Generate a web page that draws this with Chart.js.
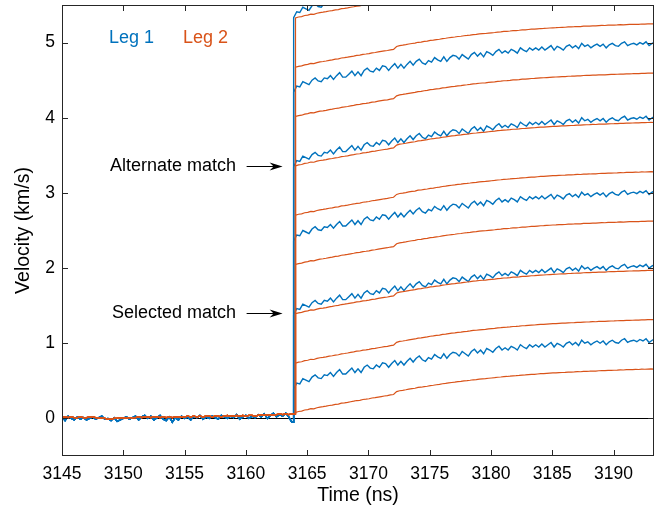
<!DOCTYPE html>
<html><head><meta charset="utf-8">
<script src="https://cdn.jsdelivr.net/npm/chart.js@4"></script>
<style>html,body{margin:0;padding:0;background:#fff}#wrap{width:666px;height:512px;position:relative}</style>
</head><body><div id="wrap"><canvas id="c"></canvas></div>
<script>
// ---- data ----
const xTicks = [3145, 3150, 3155, 3160, 3165, 3170, 3175, 3180, 3185, 3190];
const yTicks = [0, 1, 2, 3, 4, 5];
const xRange = [3145, 3193.3];
const yRange = [-0.5, 5.5];
const preStart = 3145, sampleStep = 0.25;
const blueJump = 3163.9, orangeJump = 3164.05;

// pre-shock baseline (3145 .. 3163.75 ns)
const bluePre = [
 0.02,-0.03,0.03,0.00,-0.02,0.02,-0.01,0.01,
 -0.02,0.00,0.02,-0.01,0.01,0.03,-0.01,0.00,
 -0.03,0.01,-0.04,-0.02,0.00,0.02,-0.01,0.01,
 0.03,-0.02,0.02,0.04,0.00,0.03,-0.02,0.01,
 0.04,-0.01,-0.03,0.02,-0.05,0.01,-0.02,0.03,
 0.00,0.02,-0.02,0.03,0.01,0.04,-0.01,0.02,
 0.00,0.03,0.01,-0.01,0.04,0.02,0.00,0.03,
 0.01,0.05,-0.01,0.02,0.04,0.00,0.03,0.01,
 0.05,0.02,0.06,0.00,0.04,0.07,0.02,0.05,
 0.03,0.07,0.02,-0.05];
const orangePre = [
 0.02,0.02,0.01,0.02,0.01,0.01,0.02,0.01,
 0.01,0.02,0.02,0.01,0.01,0.00,0.00,-0.01,
 -0.01,0.00,0.00,0.01,0.00,0.01,0.01,0.01,
 0.01,0.02,0.01,0.02,0.02,0.01,0.02,0.02,
 0.01,0.02,0.01,0.02,0.01,0.02,0.02,0.02,
 0.02,0.03,0.02,0.03,0.02,0.03,0.02,0.03,
 0.03,0.02,0.03,0.03,0.02,0.03,0.04,0.03,
 0.03,0.04,0.03,0.04,0.03,0.04,0.04,0.03,
 0.04,0.05,0.04,0.05,0.04,0.05,0.05,0.06,
 0.05,0.06,0.05,0.06];

// post-shock velocity (base trace, from jump time, 0.25 ns samples)
const bluePost = [
 0.39,0.47,0.46,0.53,0.51,0.49,0.55,0.58,0.54,0.53,0.58,0.57,0.61,0.56,0.61,0.65,
 0.59,0.59,0.63,0.67,0.61,0.66,0.61,0.68,0.71,0.67,0.66,0.71,0.68,0.74,0.73,0.68,
 0.73,0.77,0.71,0.76,0.71,0.76,0.80,0.75,0.80,0.83,0.78,0.76,0.81,0.79,0.85,0.82,
 0.80,0.86,0.80,0.85,0.88,0.87,0.83,0.89,0.86,0.83,0.89,0.92,0.87,0.91,0.86,0.93,
 0.91,0.88,0.93,0.96,0.91,0.94,0.91,0.96,0.94,0.91,0.98,0.95,0.93,0.98,0.95,0.98,
 0.95,0.99,0.95,0.98,1.01,0.95,1.00,0.98,0.95,1.00,1.02,0.98,1.01,0.97,1.04,1.00,
 1.02,0.98,1.01,1.03,1.00,1.03,0.98,1.02,1.04,1.01,1.00,1.04,1.06,1.01,1.03,1.04,
 1.02,1.05,1.03,1.06,1.01,1.04,1.06];
const orangePost = [
 0.080,0.092,0.098,0.112,0.118,0.131,0.128,0.142,0.151,0.156,0.163,0.172,0.178,0.187,0.191,0.203,
 0.208,0.214,0.222,0.229,0.238,0.241,0.252,0.256,0.262,0.272,0.276,0.284,0.291,0.298,0.303,0.312,
 0.318,0.356,0.368,0.374,0.381,0.389,0.396,0.401,0.412,0.415,0.423,0.428,0.437,0.441,0.448,0.452,
 0.461,0.466,0.472,0.478,0.482,0.489,0.492,0.499,0.503,0.508,0.514,0.517,0.523,0.526,0.529,0.534,
 0.538,0.542,0.548,0.551,0.556,0.558,0.562,0.567,0.568,0.572,0.577,0.578,0.582,0.586,0.587,0.591,
 0.595,0.596,0.599,0.602,0.605,0.606,0.609,0.611,0.612,0.616,0.617,0.619,0.622,0.621,0.626,0.627,
 0.628,0.631,0.630,0.634,0.636,0.635,0.639,0.640,0.641,0.643,0.646,0.644,0.648,0.649,0.650,0.652,
 0.651,0.655,0.654,0.657,0.658,0.657,0.660];

// vertical offsets of the stacked traces (km/s)
const blueOffsets = [0, 0.99, 1.97, 2.96, 3.95, 4.94];
const orangeOffsets = [0, 0.656, 1.312, 1.968, 2.624, 3.28, 3.936, 4.592, 5.248];

const legendLabels = ['Leg 1', 'Leg 2'];
const notes = [
  {text: 'Alternate match', x: 3163.0, y: 3.36},
  {text: 'Selected match', x: 3163.0, y: 1.40}
];

// ---- styles ----
const BLUE = '#0072BD', ORANGE = '#D95319', AXIS = '#262626';
const FONT = "'Liberation Sans', Arial, Helvetica, sans-serif";

function buildCurve(pre, jump, post, offset) {
  const pts = pre.map((v, i) => ({x: preStart + i * sampleStep, y: v}));
  pts.push({x: jump, y: pre[pre.length - 1]});
  post.forEach((v, i) => pts.push({x: jump + i * sampleStep, y: +(v + offset).toFixed(3)}));
  return pts;
}

const datasets = [];
orangeOffsets.forEach(o => datasets.push({
  label: 'Leg 2', data: buildCurve(orangePre, orangeJump, orangePost, o),
  borderColor: ORANGE, borderWidth: 1.2, pointRadius: 0, fill: false, tension: 0, order: 0
}));
blueOffsets.forEach(o => datasets.push({
  label: 'Leg 1', data: buildCurve(bluePre, blueJump, bluePost, o),
  borderColor: BLUE, borderWidth: 1.4, pointRadius: 0, fill: false, tension: 0, order: 1
}));

const decor = {
  id: 'decor',
  beforeDatasetsDraw(chart) {
    const {ctx, chartArea: a, scales: {y}} = chart;
    const y0 = Math.round(y.getPixelForValue(0)) + 0.5;
    ctx.save();
    ctx.strokeStyle = '#000'; ctx.lineWidth = 1;
    ctx.beginPath(); ctx.moveTo(a.left, y0); ctx.lineTo(a.right, y0); ctx.stroke();
    ctx.restore();
  },
  afterDatasetsDraw(chart) {
    const {ctx, chartArea: a, scales: {x, y}} = chart;
    ctx.save();
    ctx.strokeStyle = AXIS; ctx.lineWidth = 1;
    const L = Math.round(a.left) + 0.5, R = Math.round(a.right) - 0.5;
    const T = Math.round(a.top) + 0.5, B = Math.round(a.bottom) - 0.5;
    ctx.strokeRect(L, T, R - L, B - T);
    const tl = 5.5;
    ctx.beginPath();
    xTicks.forEach(v => {
      const px = Math.round(x.getPixelForValue(v)) + 0.5;
      ctx.moveTo(px, B); ctx.lineTo(px, B - tl);
      ctx.moveTo(px, T); ctx.lineTo(px, T + tl);
    });
    yTicks.forEach(v => {
      const py = Math.round(y.getPixelForValue(v)) + 0.5;
      ctx.moveTo(L, py); ctx.lineTo(L + tl, py);
      ctx.moveTo(R, py); ctx.lineTo(R - tl, py);
    });
    ctx.stroke();

    // legend (coloured text only)
    ctx.font = '18px ' + FONT;
    ctx.textBaseline = 'alphabetic'; ctx.textAlign = 'left';
    ctx.fillStyle = BLUE; ctx.fillText(legendLabels[0], 109, 43);
    ctx.fillStyle = ORANGE; ctx.fillText(legendLabels[1], 183, 43);

    // annotations with arrows
    ctx.fillStyle = '#000'; ctx.strokeStyle = '#000';
    notes.forEach(n => {
      const tipX = x.getPixelForValue(n.x), py = Math.round(y.getPixelForValue(n.y)) + 0.5;
      const tailX = tipX - 36;
      ctx.textAlign = 'right'; ctx.textBaseline = 'middle';
      ctx.font = '18px ' + FONT;
      ctx.fillText(n.text, tailX - 10.5, py);
      ctx.lineWidth = 1;
      ctx.beginPath(); ctx.moveTo(tailX, py); ctx.lineTo(tipX - 8, py); ctx.stroke();
      ctx.beginPath();
      ctx.moveTo(tipX, py); ctx.lineTo(tipX - 13, py - 4); ctx.lineTo(tipX - 9, py);
      ctx.lineTo(tipX - 13, py + 4); ctx.closePath(); ctx.fill();
    });
    ctx.restore();
  }
};

new Chart(document.getElementById('c'), {
  type: 'line',
  data: {datasets},
  options: {
    responsive: true, maintainAspectRatio: false, animation: false,
    devicePixelRatio: 1,
    layout: {padding: {left: 0, right: 12, top: 5, bottom: 0}},
    plugins: {legend: {display: false}, tooltip: {enabled: false}},
    scales: {
      x: {
        type: 'linear', min: xRange[0], max: xRange[1],
        grid: {display: false, drawTicks: false}, border: {display: false},
        afterBuildTicks: s => { s.ticks = xTicks.map(v => ({value: v})); },
        afterFit: s => { s.height = 56; s.paddingLeft = 0; s.paddingRight = 0; },
        ticks: {autoSkip: false, maxRotation: 0, padding: 8, color: '#000',
          font: {family: FONT, size: 17.5}, callback: v => String(v)},
        title: {display: true, text: 'Time (ns)', color: '#000',
          font: {family: FONT, size: 19.5}, padding: {top: 0, bottom: 5}}
      },
      y: {
        type: 'linear', min: yRange[0], max: yRange[1],
        grid: {display: false, drawTicks: false}, border: {display: false},
        afterBuildTicks: s => { s.ticks = yTicks.map(v => ({value: v})); },
        afterFit: s => { s.width = 62; s.paddingTop = 0; s.paddingBottom = 0; },
        ticks: {padding: 7, color: '#000', font: {family: FONT, size: 17.5}, callback: v => String(v)},
        title: {display: true, text: 'Velocity (km/s)', color: '#000',
          font: {family: FONT, size: 19.5}, padding: {top: 12, bottom: 0}}
      }
    }
  },
  plugins: [decor]
});
</script></body></html>
